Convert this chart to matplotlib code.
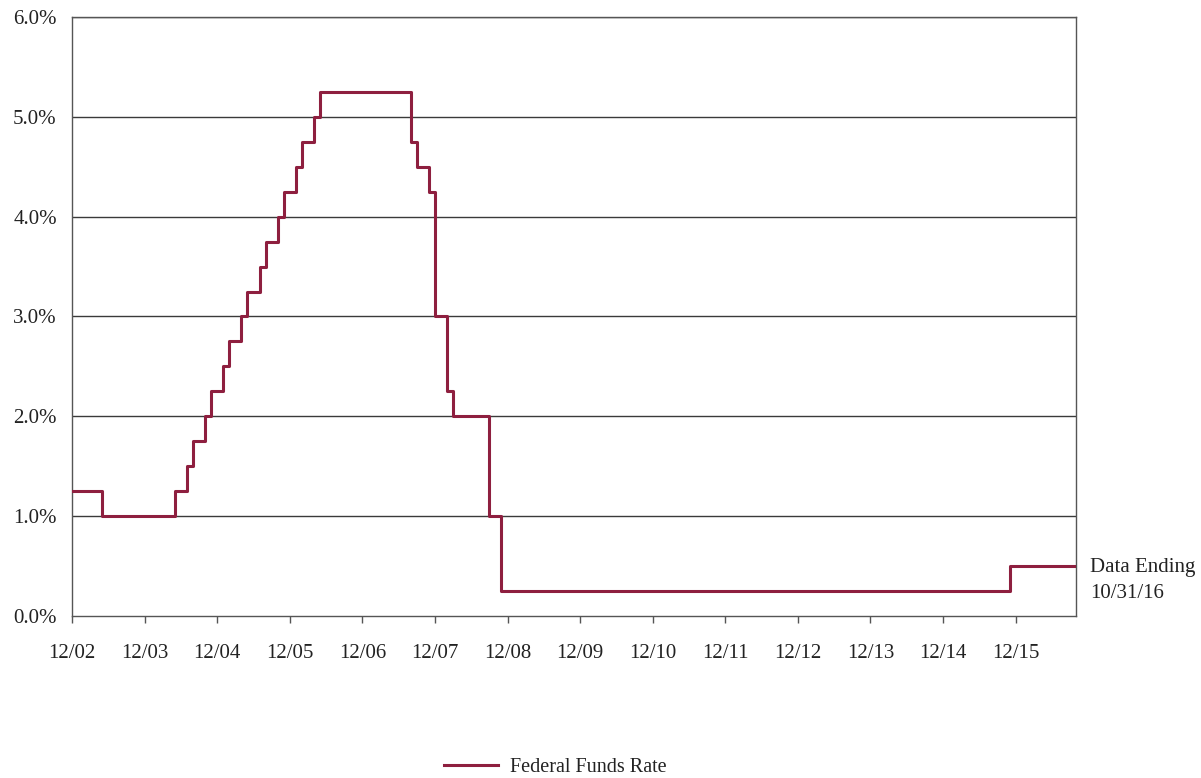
import matplotlib.pyplot as plt

# change points: month (start of step) and rate in %
change_months = ['2002-12', '2003-05', '2004-05', '2004-07', '2004-08', '2004-10',
                 '2004-11', '2005-01', '2005-02', '2005-04', '2005-05', '2005-07',
                 '2005-08', '2005-10', '2005-11', '2006-01', '2006-02', '2006-04',
                 '2006-05', '2007-08', '2007-09', '2007-11', '2007-12', '2008-02',
                 '2008-03', '2008-09', '2008-11', '2015-11', '2016-10']
rates = [1.25, 1.00, 1.25, 1.50, 1.75, 2.00, 2.25, 2.50, 2.75, 3.00, 3.25, 3.50,
         3.75, 4.00, 4.25, 4.50, 4.75, 5.00, 5.25, 4.75, 4.50, 4.25, 3.00, 2.25,
         2.00, 1.00, 0.25, 0.50, 0.50]
tick_labels = ['12/02', '12/03', '12/04', '12/05', '12/06', '12/07', '12/08',
               '12/09', '12/10', '12/11', '12/12', '12/13', '12/14', '12/15']
y_ticks = [0, 1, 2, 3, 4, 5, 6]

def month_index(s):
    y, m = s.split('-')
    return (int(y) - 2002) * 12 + int(m) - 12

x = [month_index(s) for s in change_months]

plt.rcParams['font.family'] = ['Liberation Serif', 'DejaVu Serif']
red = '#8e1f3f'
grid_c = '#3a3a3a'
txt_c = '#222222'

fig = plt.figure(figsize=(12.01, 7.78), dpi=100)
ax = fig.add_axes([0.06, 0.2082, 0.836, 0.7700])

for v in y_ticks[1:]:
    ax.axhline(v, color=grid_c, lw=1.0, zorder=1)

ax.plot(x, rates, drawstyle='steps-post', color=red, lw=2.2, zorder=3,
        label='Federal Funds Rate')

ax.set_xlim(0, x[-1])
ax.set_ylim(0, 6)
ax.set_xticks(range(0, 12 * len(tick_labels), 12))
ax.set_xticklabels(tick_labels)
ax.set_yticks(y_ticks)
ax.set_yticklabels([f'{v:.1f}%' for v in y_ticks])
ax.tick_params(axis='x', length=5, width=1, color='#555555', direction='out',
               pad=15, labelsize=15, labelcolor=txt_c)
ax.tick_params(axis='y', length=0, pad=11, labelsize=15, labelcolor=txt_c)
for sp in ax.spines.values():
    sp.set_color('#555555')
    sp.set_linewidth(1.0)

ax.annotate('Data Ending\n10/31/16', xy=(x[-1], rates[-1]), xytext=(10, 5.5),
            textcoords='offset points', ha='left', va='top', fontsize=15,
            color=txt_c, linespacing=1.45, annotation_clip=False)

fig.legend(loc='lower center', bbox_to_anchor=(0.4625, -0.022), frameon=False,
           fontsize=14.5, handlelength=2.7, handletextpad=0.6,
           labelcolor=txt_c)

fig.savefig('out.png', dpi=100)
